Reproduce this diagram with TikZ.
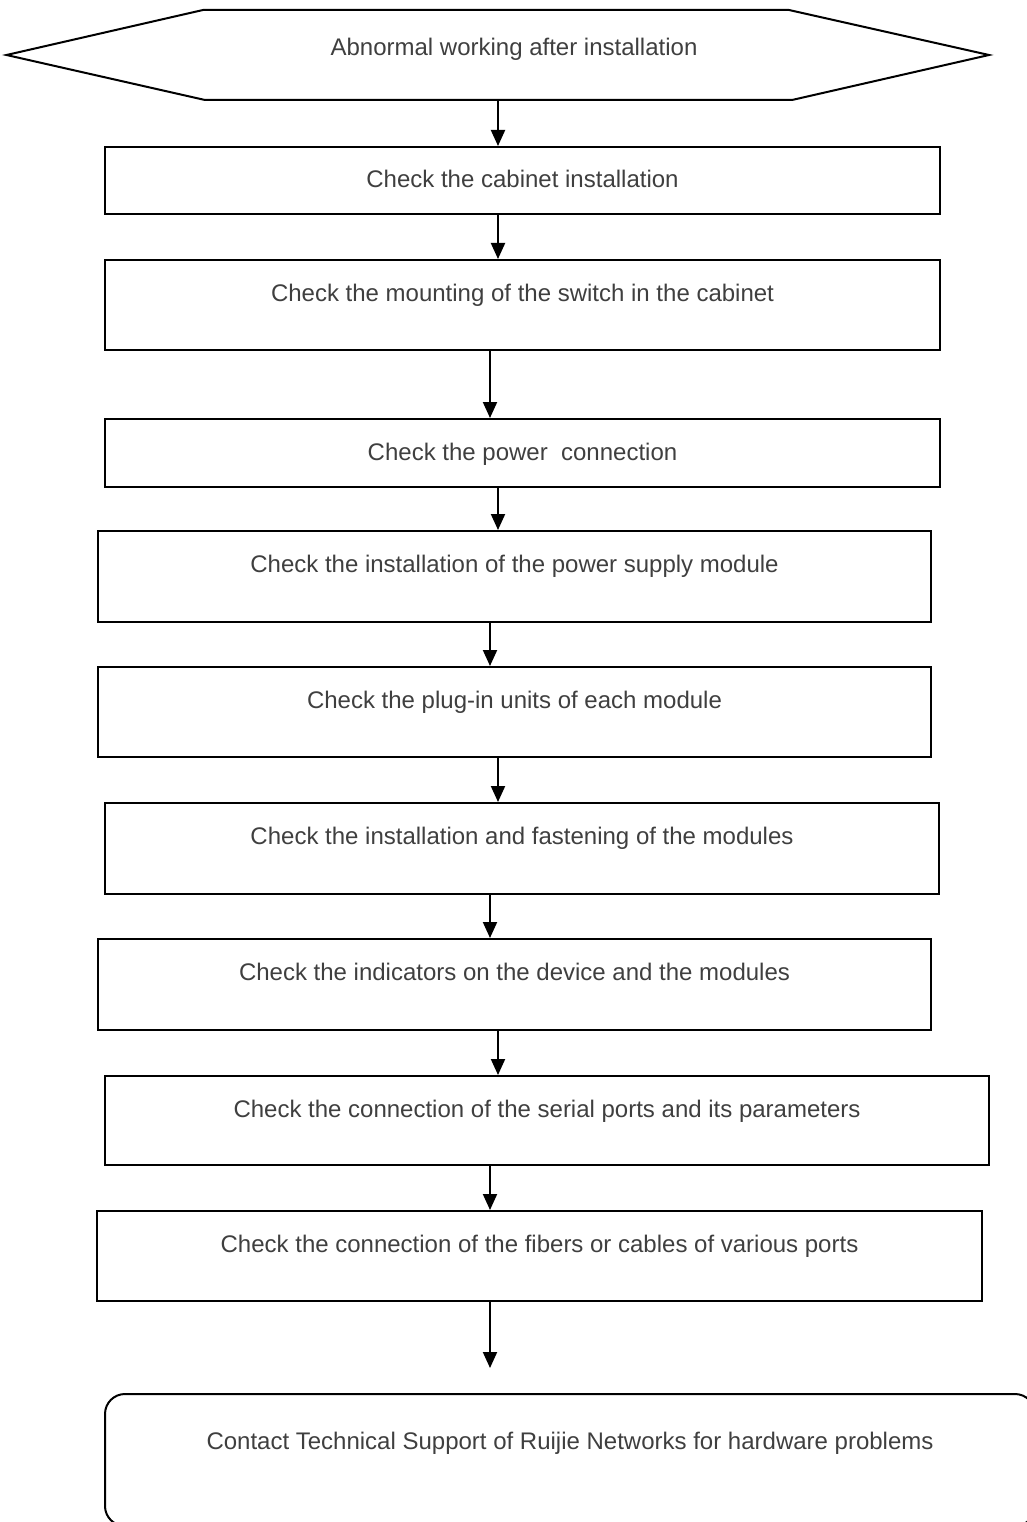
\documentclass[tikz,border=0pt]{standalone}
\usepackage{fontspec}
\setmainfont{Liberation Sans}
\usepackage{xcolor}
\usepackage{tikz}
\usetikzlibrary{arrows.meta}
\usetikzlibrary{positioning}
\definecolor{txtgray}{HTML}{3F3F3F}

\begin{document}
\begin{tikzpicture}[x=1pt, y=-1pt,
    every node/.style={inner xsep=0pt, inner ysep=0pt, anchor=north, text height=41pt, text=txtgray, font=\fontsize{24}{29}\selectfont},
    paso/.style 2 args={draw=black, line width=2pt, rectangle, minimum width=#1pt, text depth=#2pt},
    flecha/.style={-{Triangle[length=16pt, width=14pt]}, line width=2pt}]

        \useasboundingbox (0,0) rectangle (1027,1522);

        % Inicio
        \node[text height=45pt, text depth=45pt] (inicio) at (514,10) {Abnormal working after installation};
        \draw[line width=2pt] (6.5,55) -- (203,10) -- (789,10) -- (989,55) -- (792,100) -- (205,100) -- cycle;

        % Pasos
        \node[paso={835}{26}] (caja1) at (522.5,146) {Check the cabinet installation};
        \node[paso={835}{49}] (caja2) at (522.5,259) {Check the mounting of the switch in the cabinet};
        \node[paso={835}{27}] (caja3) at (522.5,418) {Check the power\ \ connection};
        \node[paso={833}{50}] (caja4) at (514.5,530) {Check the installation of the power supply module};
        \node[paso={833}{49}] (caja5) at (514.5,666) {Check the plug-in units of each module};
        \node[paso={834}{50}] (caja6) at (522,802) {Check the installation and fastening of the modules};
        \node[paso={833}{50}] (caja7) at (514.5,938) {Check the indicators on the device and the modules};
        \node[paso={884}{48}] (caja8) at (547,1075) {Check the connection of the serial ports and its parameters};
        \node[paso={885}{49}] (caja9) at (539.5,1210) {Check the connection of the fibers or cables of various ports};
        \node[paso={930}{76.5}, text height=55.5pt, rounded corners=20pt] (caja10) at (570,1393) {Contact Technical Support of Ruijie Networks for hardware problems};

        % Flechas
        \coordinate (xa) at (498,0);
        \coordinate (xb) at (490,0);
        \coordinate (fin) at (490,1368);
        \draw[flecha] (inicio.south -| xa) -- (caja1.north -| xa);
        \draw[flecha] (caja1.south -| xa) -- (caja2.north -| xa);
        \draw[flecha] (caja2.south -| xb) -- (caja3.north -| xb);
        \draw[flecha] (caja3.south -| xa) -- (caja4.north -| xa);
        \draw[flecha] (caja4.south -| xb) -- (caja5.north -| xb);
        \draw[flecha] (caja5.south -| xa) -- (caja6.north -| xa);
        \draw[flecha] (caja6.south -| xb) -- (caja7.north -| xb);
        \draw[flecha] (caja7.south -| xa) -- (caja8.north -| xa);
        \draw[flecha] (caja8.south -| xb) -- (caja9.north -| xb);
        \draw[flecha] (caja9.south -| xb) -- (fin);

    \end{tikzpicture}
\end{document}
